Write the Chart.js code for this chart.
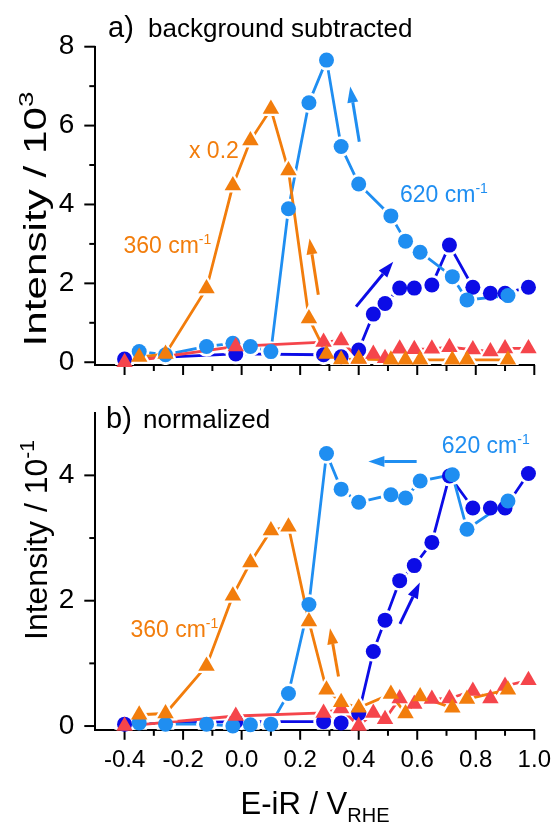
<!DOCTYPE html>
<html>
<head>
<meta charset="utf-8">
<title>Raman intensity vs potential</title>
<script src="https://cdn.jsdelivr.net/npm/chart.js@4.4.1/dist/chart.umd.min.js"></script>
<style>
  html, body { margin: 0; padding: 0; background: #fff; }
  #wrap { position: relative; width: 555px; height: 823px; overflow: hidden; }
  canvas { position: absolute; left: 0; }
  #chartA { top: 0; }
  #chartB { top: 390px; }
</style>
</head>
<body>
<div id="wrap">
  <canvas id="chartA" width="555" height="390"></canvas>
  <canvas id="chartB" width="555" height="433"></canvas>
</div>
<script>
// Potentials (V vs RHE) of the cathodic (high -> low) and anodic (low -> high) sweeps
const potentialCathodic = [-0.35, -0.26, -0.12, -0.03, 0.03, 0.10, 0.16, 0.23, 0.29, 0.34, 0.40, 0.51, 0.56, 0.61, 0.72, 0.77, 0.91];
const potentialAnodic   = [-0.40, -0.02, 0.28, 0.34, 0.40, 0.45, 0.49, 0.54, 0.59, 0.65, 0.71, 0.79, 0.85, 0.90, 0.98];

// a) background subtracted intensity, units of 10^3
const bg620Cathodic = [0.27, 0.19, 0.40, 0.48, 0.40, 0.27, 3.89, 6.58, 7.66, 5.47, 4.52, 3.71, 3.07, 2.79, 2.17, 1.58, 1.69];
const bg620Anodic   = [0.08, 0.21, 0.19, 0.14, 0.31, 1.22, 1.49, 1.88, 1.88, 1.96, 2.97, 1.90, 1.75, 1.75, 1.90];
const bg360Cathodic = [0.13, 0.21, 1.87, 4.48, 5.62, 6.42, 4.86, 1.11, 0.21, 0.07, 0.08, 0.06, 0.06, 0.06, 0.06, 0.06, 0.06]; // scaled x 0.2
const bg360Anodic   = [0.00, 0.40, 0.51, 0.55, 0.09, 0.21, 0.10, 0.34, 0.33, 0.34, 0.38, 0.32, 0.27, 0.35, 0.35];

// b) normalized intensity, units of 10^-1
const norm620Cathodic = [0.05, 0.03, 0.03, 0.00, 0.02, 0.03, 0.52, 1.94, 4.35, 3.78, 3.57, 3.69, 3.64, 3.91, 4.01, 3.14, 3.59];
const norm620Anodic   = [0.03, 0.07, 0.07, 0.05, 0.20, 1.19, 1.69, 2.32, 2.56, 2.93, 3.99, 3.48, 3.48, 3.48, 4.03];
const norm360Cathodic = [0.18, 0.20, 0.96, 2.08, 2.61, 3.12, 3.18, 1.67, 0.58, 0.38, 0.29, 0.51, 0.20, 0.47, 0.29, 0.43, 0.58];
const norm360Anodic   = [0.00, 0.16, 0.21, 0.28, 0.00, 0.21, 0.11, 0.44, 0.35, 0.43, 0.44, 0.56, 0.44, 0.64, 0.73];

// Axis ticks
const xMajorTicks = [-0.4, -0.2, 0.0, 0.2, 0.4, 0.6, 0.8, 1.0];
const xMinorTicks = [-0.3, -0.1, 0.1, 0.3, 0.5, 0.7, 0.9];
const yMajorTicksA = [0, 2, 4, 6, 8];
const yMinorTicksA = [1, 3, 5, 7];
const yMajorTicksB = [0, 2, 4];
const yMinorTicksB = [1, 3];

const FONT = "'Liberation Sans', Arial, Helvetica, sans-serif";
const C = { light: '#1f8ef1', dark: '#0c0ce6', orange: '#f27d0c', red: '#f5454b' };

function pts(xs, ys) { return xs.map((x, i) => ({ x: x, y: ys[i] })); }

// Each series gets a line layer (with white knock-outs around the symbols, so the
// connecting line stops short of each symbol) and a symbol layer drawn above all lines.
// The first series in the list ends up on top.
function buildDatasets(series) {
  const n = series.length;
  const out = [];
  series.forEach((s, i) => {
    const tri = s.shape === 'triangle';
    const r = tri ? 9.5 : 7.5;
    out.push({
      data: pts(s.xs, s.ys), showLine: false, pointStyle: s.shape, pointRadius: r,
      pointBackgroundColor: s.color, pointBorderWidth: 0, order: i, clip: false
    });
    out.push({
      data: pts(s.xs, s.ys), showLine: true, borderColor: s.color, borderWidth: 2.8, tension: 0,
      pointStyle: s.shape, pointRadius: r + (tri ? 4.5 : 2.8), pointBackgroundColor: '#ffffff',
      pointBorderWidth: 0, order: n + i, clip: { left: 0, top: 30, right: 30, bottom: 0 }
    });
  });
  return out;
}

function drawArrow(ctx, x0, y0, x1, y1, color) {
  const a = Math.atan2(y1 - y0, x1 - x0);
  const hl = 16, hw = 5.5;
  const bx = x1 - hl * Math.cos(a), by = y1 - hl * Math.sin(a);
  ctx.strokeStyle = color;
  ctx.lineWidth = 3;
  ctx.lineCap = 'butt';
  ctx.beginPath(); ctx.moveTo(x0, y0); ctx.lineTo(bx, by); ctx.stroke();
  ctx.fillStyle = color;
  ctx.beginPath();
  ctx.moveTo(x1, y1);
  ctx.lineTo(bx + hw * Math.sin(a), by - hw * Math.cos(a));
  ctx.lineTo(bx - hw * Math.sin(a), by + hw * Math.cos(a));
  ctx.closePath(); ctx.fill();
}

// Text with optional raised (sup) or lowered (sub) suffix, left aligned at x
function drawRich(ctx, x, y, base, size, extra, extraSize, shift, color) {
  ctx.fillStyle = color;
  ctx.textBaseline = 'alphabetic';
  ctx.textAlign = 'left';
  ctx.font = size + 'px ' + FONT;
  ctx.fillText(base, x, y);
  const w = ctx.measureText(base).width;
  if (extra) {
    ctx.font = extraSize + 'px ' + FONT;
    ctx.fillText(extra, x + w, y + shift);
    return w + ctx.measureText(extra).width;
  }
  return w;
}
function richWidth(ctx, base, size, extra, extraSize) {
  ctx.font = size + 'px ' + FONT;
  let w = ctx.measureText(base).width;
  if (extra) { ctx.font = extraSize + 'px ' + FONT; w += ctx.measureText(extra).width; }
  return w;
}

// Outward tick marks, labelled majors and short minors
const tickMarks = {
  id: 'tickMarks',
  beforeDatasetsDraw(chart, args, o) {
    const { ctx, chartArea: a, scales: { x, y } } = chart;
    ctx.save();
    ctx.strokeStyle = '#000';
    ctx.lineWidth = 2;
    const seg = (x0, y0, x1, y1) => { ctx.beginPath(); ctx.moveTo(x0, y0); ctx.lineTo(x1, y1); ctx.stroke(); };
    xMajorTicks.forEach(v => { const p = x.getPixelForValue(v); seg(p, a.bottom, p, a.bottom + 10); });
    xMinorTicks.forEach(v => { const p = x.getPixelForValue(v); seg(p, a.bottom, p, a.bottom + 6); });
    o.yMajor.forEach(v => { const p = y.getPixelForValue(v); seg(a.left, p, a.left - 11, p); });
    o.yMinor.forEach(v => { const p = y.getPixelForValue(v); seg(a.left, p, a.left - 6, p); });
    ctx.restore();
  }
};

// Panel heading, axis titles, band labels and sweep arrows
const annotations = {
  id: 'annotations',
  afterDatasetsDraw(chart, args, o) {
    const { ctx, scales: { x, y } } = chart;
    ctx.save();
    // panel heading
    drawRich(ctx, o.heading.x, o.heading.y, o.heading.tag, 29, null, 0, 0, '#000');
    drawRich(ctx, o.heading.x2, o.heading.y, o.heading.text, 26, null, 0, 0, '#000');
    // band labels
    o.labels.forEach(l => {
      drawRich(ctx, x.getPixelForValue(l.x), y.getPixelForValue(l.y), l.text, 23, l.sup, 14, -9, l.color);
    });
    // arrows
    o.arrows.forEach(ar => {
      drawArrow(ctx, x.getPixelForValue(ar.from[0]), y.getPixelForValue(ar.from[1]),
        x.getPixelForValue(ar.to[0]), y.getPixelForValue(ar.to[1]), ar.color);
    });
    // y axis title, rotated and fitted to its length along the axis
    const t = o.yTitle;
    const w = richWidth(ctx, t.text, t.size, t.sup, t.supSize);
    ctx.translate(t.x, t.cy);
    ctx.rotate(-Math.PI / 2);
    ctx.scale(t.len / w, 1);
    drawRich(ctx, -w / 2, 0, t.text, t.size, t.sup, t.supSize, -t.size * 0.4, '#000');
    ctx.restore();
    // x axis title
    if (o.xTitle) {
      ctx.save();
      const xt = o.xTitle;
      const wx = richWidth(ctx, xt.text, 31, xt.sub, 20);
      drawRich(ctx, xt.cx - wx / 2, xt.y, xt.text, 31, xt.sub, 20, 8, '#000');
      ctx.restore();
    }
  }
};

function makeConfig(p) {
  return {
    type: 'line',
    data: { datasets: buildDatasets(p.series) },
    options: {
      responsive: false,
      animation: false,
      devicePixelRatio: 1,
      events: [],
      layout: { autoPadding: false, padding: { left: 0, right: 20.7, top: p.padTop, bottom: 0 } },
      plugins: {
        legend: { display: false },
        tooltip: { enabled: false },
        tickMarks: { yMajor: p.yMajor, yMinor: p.yMinor },
        annotations: p.annotations
      },
      scales: {
        x: {
          type: 'linear', min: -0.5, max: 1.0,
          border: { display: true, color: '#000', width: 2 },
          grid: { display: false },
          ticks: {
            display: p.xLabels, color: '#000', padding: 8, autoSkip: false, maxRotation: 0,
            font: { family: FONT, size: 24 },
            callback: v => v.toFixed(1)
          },
          afterBuildTicks: s => { s.ticks = xMajorTicks.map(v => ({ value: v })); },
          afterFit: s => { s.height = p.xHeight; s.paddingLeft = 0; s.paddingRight = 0; }
        },
        y: {
          type: 'linear', min: p.yMin, max: p.yMax,
          border: { display: true, color: '#000', width: 2 },
          grid: { display: false },
          ticks: {
            color: '#000', padding: 13,
            font: { family: FONT, size: 28 },
            callback: v => String(v)
          },
          afterBuildTicks: s => { s.ticks = p.yMajor.map(v => ({ value: v })); },
          afterFit: s => { s.width = 95.3; s.paddingTop = 0; s.paddingBottom = 0; }
        }
      }
    },
    plugins: [tickMarks, annotations]
  };
}

new Chart(document.getElementById('chartA'), makeConfig({
  padTop: 46.7, xHeight: 25, xLabels: false, yMin: -0.07, yMax: 8,
  yMajor: yMajorTicksA, yMinor: yMinorTicksA,
  series: [
    { xs: potentialCathodic, ys: bg360Cathodic, color: C.orange, shape: 'triangle' },
    { xs: potentialAnodic, ys: bg360Anodic, color: C.red, shape: 'triangle' },
    { xs: potentialCathodic, ys: bg620Cathodic, color: C.light, shape: 'circle' },
    { xs: potentialAnodic, ys: bg620Anodic, color: C.dark, shape: 'circle' }
  ],
  annotations: {
    heading: { x: 108, x2: 148, y: 37, tag: 'a)', text: 'background subtracted' },
    labels: [
      { x: -0.18, y: 5.18, text: 'x 0.2', sup: null, color: C.orange },
      { x: -0.404, y: 2.77, text: '360 cm', sup: '-1', color: C.orange },
      { x: 0.541, y: 4.07, text: '620 cm', sup: '-1', color: C.light }
    ],
    arrows: [
      { from: [0.402, 5.59], to: [0.371, 6.99], color: C.light },
      { from: [0.262, 1.71], to: [0.232, 3.14], color: C.orange },
      { from: [0.391, 1.41], to: [0.518, 2.55], color: C.dark }
    ],
    yTitle: { x: 46, cy: 219, len: 255, size: 32, supSize: 21, text: 'Intensity / 10', sup: '3' },
    xTitle: null
  }
}));

new Chart(document.getElementById('chartB'), makeConfig({
  padTop: 22.7, xHeight: 93.2, xLabels: true, yMin: -0.06, yMax: 5,
  yMajor: yMajorTicksB, yMinor: yMinorTicksB,
  series: [
    { xs: potentialCathodic, ys: norm360Cathodic, color: C.orange, shape: 'triangle' },
    { xs: potentialAnodic, ys: norm360Anodic, color: C.red, shape: 'triangle' },
    { xs: potentialCathodic, ys: norm620Cathodic, color: C.light, shape: 'circle' },
    { xs: potentialAnodic, ys: norm620Anodic, color: C.dark, shape: 'circle' }
  ],
  annotations: {
    heading: { x: 106, x2: 143, y: 38, tag: 'b)', text: 'normalized' },
    labels: [
      { x: 0.684, y: 4.35, text: '620 cm', sup: '-1', color: C.light },
      { x: -0.38, y: 1.425, text: '360 cm', sup: '-1', color: C.orange }
    ],
    arrows: [
      { from: [0.598, 4.22], to: [0.433, 4.22], color: C.light },
      { from: [0.331, 0.79], to: [0.302, 1.56], color: C.orange },
      { from: [0.541, 1.63], to: [0.609, 2.29], color: C.dark }
    ],
    yTitle: { x: 47, cy: 150, len: 200, size: 32, supSize: 21, text: 'Intensity / 10', sup: '-1' },
    xTitle: { cx: 315, y: 424, text: 'E-iR / V', sub: 'RHE' }
  }
}));
</script>
</body>
</html>
